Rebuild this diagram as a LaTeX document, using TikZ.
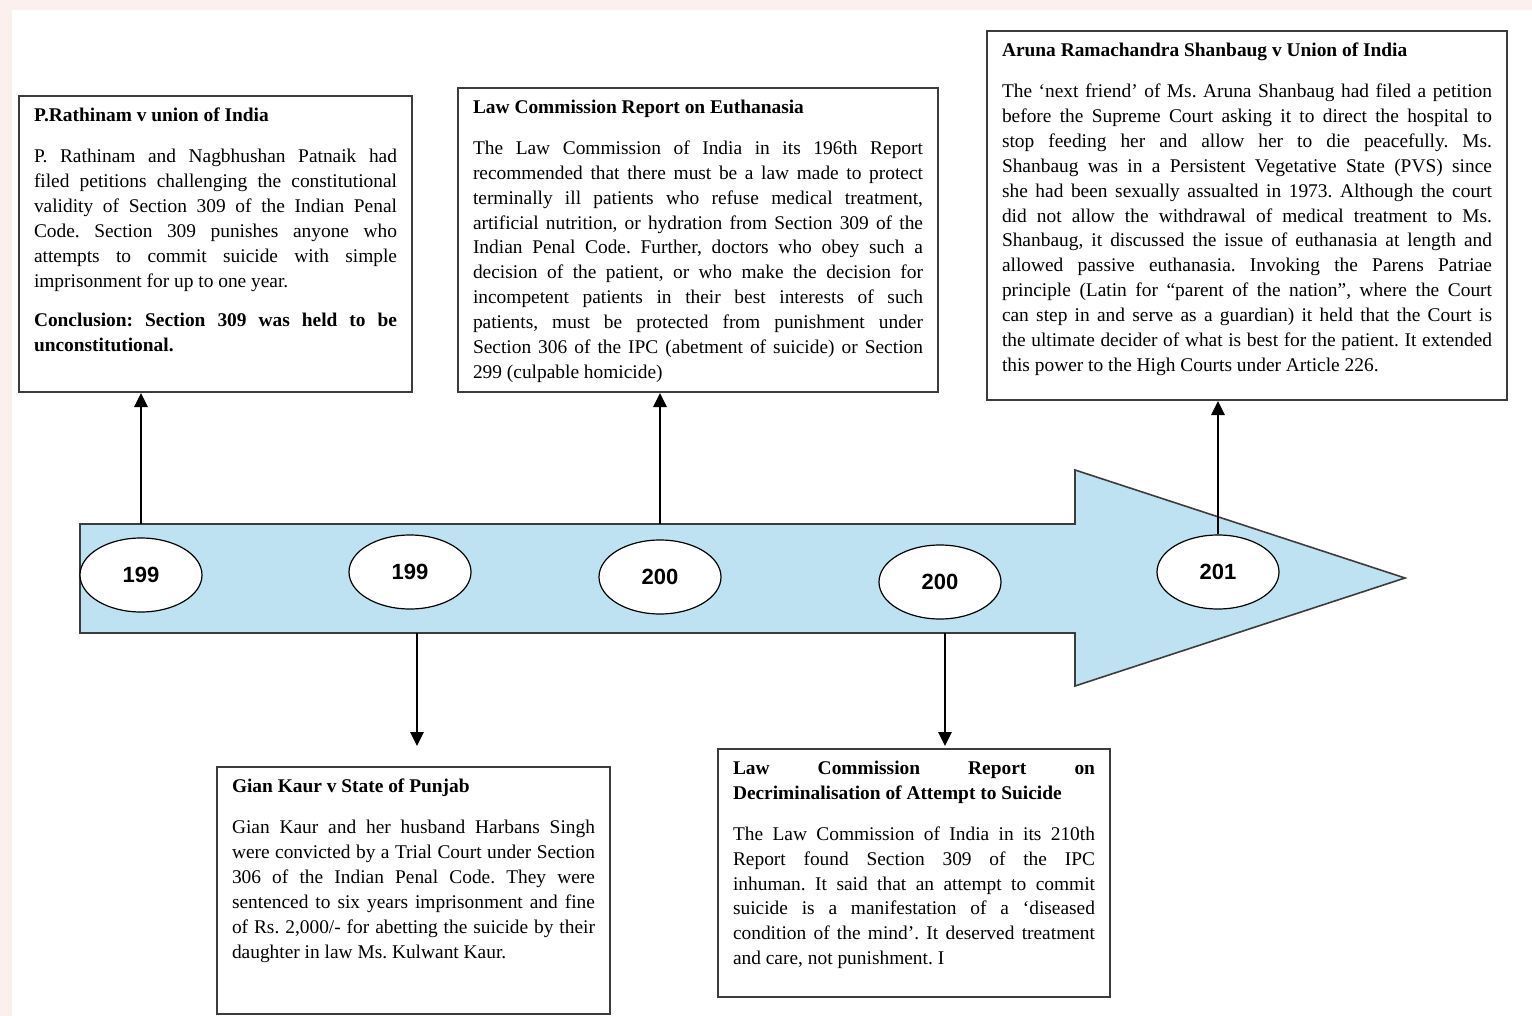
\documentclass[tikz,border=0pt]{standalone}
\usepackage{fontspec}
\setmainfont{Liberation Serif}
\newfontfamily\yearfont{Liberation Sans}
\usepackage{tikz}
\usetikzlibrary{shapes.geometric,arrows.meta}
\definecolor{pagepink}{RGB}{252,240,239}
\definecolor{arrowblue}{RGB}{190,226,241}
\definecolor{boxline}{RGB}{60,60,60}
\frenchspacing
% box contents: width, height, title, body
\newcommand{\casetext}[4]{%
  \begin{minipage}[t][#2][t]{#1}\fontsize{9.7pt}{12.45pt}\selectfont
  \textbf{#3}\par\vspace{8pt}#4\end{minipage}}

\begin{document}
\begin{tikzpicture}[x=0.5pt,y=-0.5pt,>={Triangle[length=7pt,width=6.5pt]},
  event/.style={draw=boxline,line width=1pt,fill=white,anchor=north west,inner xsep=7.5pt,inner ysep=6pt},
  year/.style={ellipse,draw,fill=white,line width=0.6pt,minimum width=61pt,minimum height=37pt,inner sep=0pt,
    font=\yearfont\bfseries\fontsize{11pt}{13pt}\selectfont},
  link/.style={->,line width=1.4pt}]
\useasboundingbox (0,0) rectangle (1532,1016);
\fill[pagepink] (0,0) rectangle (1532,1016);
\fill[white] (12,10) rectangle (1532,1016);

% timeline arrow
\filldraw[fill=arrowblue,draw=boxline,line width=0.8pt]
  (80,524) -- (1075,524) -- (1075,470) -- (1405,578) -- (1075,686) -- (1075,633) -- (80,633) -- cycle;
\coordinate (up1) at (141,524);
\coordinate (dn2) at (417,633);
\coordinate (up3) at (660,524);
\coordinate (dn4) at (945,633);

\node[year] (Y1) at (141,575) {199};
\node[year] (Y2) at (410,572) {199};
\node[year] (Y3) at (660,577) {200};
\node[year] (Y4) at (940,582) {200};
\node[year] (Y5) at (1218,572) {201};

% case boxes
\node[event] (B1) at (18,95) {\casetext{181.5pt}{136pt}{P.Rathinam v union of India}{%
  P. Rathinam and Nagbhushan Patnaik had\linebreak
  filed petitions challenging the constitutional\linebreak
  validity of Section 309 of the Indian Penal\linebreak
  Code. Section 309 punishes anyone who\linebreak
  attempts to commit suicide with simple\linebreak
  imprisonment for up to one year.\par\vspace{7.5pt}
  \textbf{Conclusion: Section 309 was held to be\linebreak unconstitutional.}}};

\node[event] (B2) at (457,87) {\casetext{225pt}{140pt}{Law Commission Report on Euthanasia}{%
  The Law Commission of India in its 196th Report\linebreak
  recommended that there must be a law made to protect\linebreak
  terminally ill patients who refuse medical treatment,\linebreak
  artificial nutrition, or hydration from Section 309 of the\linebreak
  Indian Penal Code. Further, doctors who obey such a\linebreak
  decision of the patient, or who make the decision for\linebreak
  incompetent patients in their best interests of such\linebreak
  patients, must be protected from punishment under\linebreak
  Section 306 of the IPC (abetment of suicide) or Section\linebreak
  299 (culpable homicide)}};

\node[event] (B3) at (986,30) {\casetext{245pt}{172.5pt}{Aruna Ramachandra Shanbaug v Union of India}{%
  The ‘next friend’ of Ms. Aruna Shanbaug had filed a petition\linebreak
  before the Supreme Court asking it to direct the hospital to\linebreak
  stop feeding her and allow her to die peacefully. Ms.\linebreak
  Shanbaug was in a Persistent Vegetative State (PVS) since\linebreak
  she had been sexually assualted in 1973. Although the court\linebreak
  did not allow the withdrawal of medical treatment to Ms.\linebreak
  Shanbaug, it discussed the issue of euthanasia at length and\linebreak
  allowed passive euthanasia. Invoking the Parens Patriae\linebreak
  principle (Latin for “parent of the nation”, where the Court\linebreak
  can step in and serve as a guardian) it held that the Court is\linebreak
  the ultimate decider of what is best for the patient. It extended\linebreak
  this power to the High Courts under Article 226.}};

\node[event] (B4) at (216,766) {\casetext{181.5pt}{111.5pt}{Gian Kaur v State of Punjab}{%
  Gian Kaur and her husband Harbans Singh\linebreak
  were convicted by a Trial Court under Section\linebreak
  306 of the Indian Penal Code. They were\linebreak
  sentenced to six years imprisonment and fine\linebreak
  of Rs. 2,000/- for abetting the suicide by their\linebreak
  daughter in law Ms. Kulwant Kaur.}};

\node[event] (B5) at (717,748) {\casetext{181pt}{112pt}{Law Commission Report on\linebreak
  Decriminalisation of Attempt to Suicide}{%
  The Law Commission of India in its 210th\linebreak
  Report found Section 309 of the IPC\linebreak
  inhuman. It said that an attempt to commit\linebreak
  suicide is a manifestation of a ‘diseased\linebreak
  condition of the mind’. It deserved treatment\linebreak
  and care, not punishment. I}};

% links from the timeline to the boxes
\draw[link] (up1) -- (up1 |- B1.south);
\draw[link] (up3) -- (up3 |- B2.south);
\draw[link] (Y5.north) -- (Y5.north |- B3.south);
\draw[link,shorten >=10pt] (dn2) -- (dn2 |- B4.north);
\draw[link,shorten >=1pt] (dn4) -- (dn4 |- B5.north);
\end{tikzpicture}
\end{document}
